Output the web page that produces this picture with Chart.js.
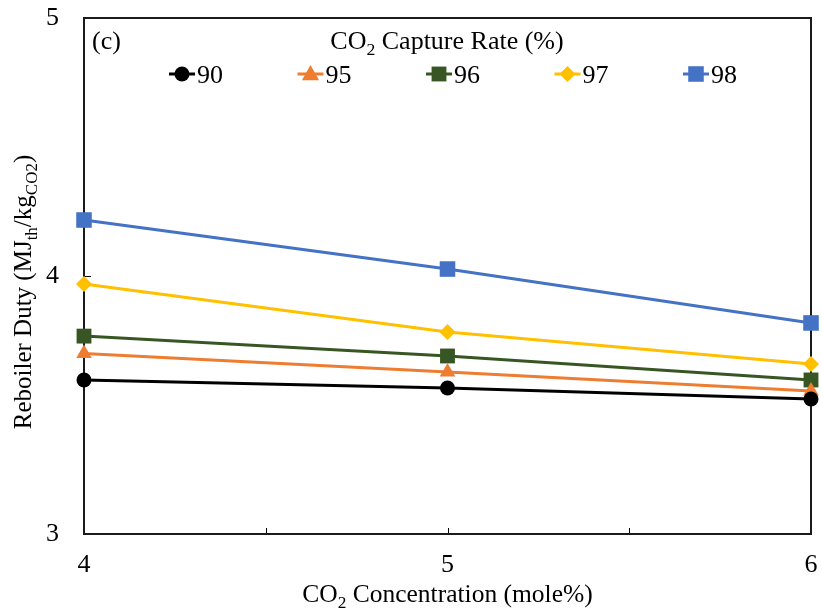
<!DOCTYPE html>
<html>
<head>
    <title>Reboiler Duty</title>
    <script src="https://cdn.jsdelivr.net/npm/chart.js"></script>
    <style>
        html, body { margin: 0; padding: 0; background: #fff; }
        #wrap { width: 822px; height: 611px; }
    </style>
</head>
<body>
    <div id="wrap"><canvas id="myChart" width="822" height="611"></canvas></div>
    <script>
        // CO2 concentration (mole%)
        const concentration = [4, 5, 6];
        // capture rates (%) and reboiler duty (MJ_th/kg_CO2)
        const captureRates = ['90', '95', '96', '97', '98'];
        const duty90 = [3.597, 3.566, 3.523];
        const duty95 = [3.700, 3.628, 3.554];
        const duty96 = [3.767, 3.690, 3.597];
        const duty97 = [3.969, 3.783, 3.659];
        const duty98 = [4.217, 4.027, 3.818];
        const yTicks = [3, 4, 5];
        const xTicks = [4, 5, 6];

        const FONT = '"Liberation Serif", "Times New Roman", serif';

        const series = [duty90, duty95, duty96, duty97, duty98];
        const colors = ['#000000', '#ED7D31', '#375623', '#FFC000', '#4472C4'];
        const shapes = ['circle', 'triangle', 'rect', 'rectRot', 'rect'];
        const radii = [7.5, 9, 10.5, 8, 11];

        const datasets = series.map((vals, i) => ({
            label: captureRates[i],
            data: vals.map((v, j) => ({ x: concentration[j], y: v })),
            borderColor: colors[i],
            backgroundColor: colors[i],
            borderWidth: 3,
            pointStyle: shapes[i],
            pointRadius: radii[i],
            pointHoverRadius: radii[i],
            pointBorderWidth: 0,
            tension: 0,
            clip: false
        }));

        // draw text with subscript parts: parts = [[text, isSub], ...]
        function drawRich(ctx, parts, size, x, y, align) {
            const sub = size * 0.68;
            let w = 0;
            parts.forEach(p => {
                ctx.font = (p[1] ? sub : size) + 'px ' + FONT;
                w += ctx.measureText(p[0]).width;
            });
            let cx = align === 'center' ? x - w / 2 : x;
            ctx.textAlign = 'left';
            ctx.textBaseline = 'alphabetic';
            parts.forEach(p => {
                ctx.font = (p[1] ? sub : size) + 'px ' + FONT;
                ctx.fillText(p[0], cx, p[1] ? y + size * 0.22 : y);
                cx += ctx.measureText(p[0]).width;
            });
        }

        function drawMarker(ctx, shape, x, y, r, color) {
            ctx.fillStyle = color;
            ctx.beginPath();
            if (shape === 'circle') {
                ctx.arc(x, y, r, 0, Math.PI * 2);
            } else if (shape === 'triangle') {
                ctx.moveTo(x, y - r);
                ctx.lineTo(x + r * 0.95, y + r * 0.7);
                ctx.lineTo(x - r * 0.95, y + r * 0.7);
                ctx.closePath();
            } else if (shape === 'rectRot') {
                ctx.moveTo(x, y - r);
                ctx.lineTo(x + r, y);
                ctx.lineTo(x, y + r);
                ctx.lineTo(x - r, y);
                ctx.closePath();
            } else {
                const s = r * Math.SQRT1_2;
                ctx.rect(x - s, y - s, 2 * s, 2 * s);
            }
            ctx.fill();
        }

        const decorations = {
            id: 'decorations',
            beforeDatasetsDraw(chart) {
                const ctx = chart.ctx;
                const a = chart.chartArea;
                const xs = chart.scales.x, ys = chart.scales.y;
                ctx.save();
                ctx.strokeStyle = '#000';
                ctx.lineWidth = 1;
                // inward ticks on x axis
                [4.5, 5, 5.5].forEach(v => {
                    const px = Math.round(xs.getPixelForValue(v)) + 0.5;
                    ctx.beginPath();
                    ctx.moveTo(px, a.bottom);
                    ctx.lineTo(px, a.bottom - 6);
                    ctx.stroke();
                });
                const py = Math.round(ys.getPixelForValue(4)) + 0.5;
                ctx.beginPath();
                ctx.moveTo(a.left, py);
                ctx.lineTo(a.left + 7, py);
                ctx.stroke();
                // frame
                ctx.lineWidth = 2;
                ctx.strokeStyle = '#1a1a1a';
                ctx.strokeRect(a.left, a.top, a.right - a.left, a.bottom - a.top);
                ctx.restore();
            },
            afterDraw(chart) {
                const ctx = chart.ctx;
                const a = chart.chartArea;
                ctx.save();
                ctx.fillStyle = '#000';
                // panel label
                drawRich(ctx, [['(c)', false]], 26, a.left + 8, 49, 'left');
                // legend title
                drawRich(ctx, [['CO', false], ['2', true], [' Capture Rate (%)', false]], 26, 447, 49, 'center');
                // legend entries
                chart.data.datasets.forEach((ds, i) => {
                    const cx = 182 + i * 128.5;
                    const cy = 74;
                    ctx.strokeStyle = ds.borderColor;
                    ctx.lineWidth = 3;
                    ctx.beginPath();
                    ctx.moveTo(cx - 13, cy);
                    ctx.lineTo(cx + 13, cy);
                    ctx.stroke();
                    drawMarker(ctx, ds.pointStyle, cx, cy, ds.pointRadius, ds.borderColor);
                    ctx.fillStyle = '#000';
                    drawRich(ctx, [[ds.label, false]], 26, cx + 15, 83, 'left');
                });
                // x axis title
                drawRich(ctx, [['CO', false], ['2', true], [' Concentration (mole%)', false]], 25.5, (a.left + a.right) / 2, 602, 'center');
                // y axis title
                ctx.translate(31, 292);
                ctx.rotate(-Math.PI / 2);
                drawRich(ctx, [['Reboiler Duty (MJ', false], ['th', true], ['/kg', false], ['CO2', true], [')', false]], 25, 0, 0, 'center');
                ctx.restore();
            }
        };

        new Chart(document.getElementById('myChart').getContext('2d'), {
            type: 'line',
            data: { datasets: datasets },
            options: {
                responsive: false,
                animation: false,
                events: [],
                layout: { padding: { left: 0, top: 18, right: 10, bottom: 0 } },
                plugins: {
                    legend: { display: false },
                    tooltip: { enabled: false },
                    title: { display: false }
                },
                scales: {
                    x: {
                        type: 'linear',
                        min: 4,
                        max: 6,
                        afterBuildTicks(scale) { scale.ticks = xTicks.map(v => ({ value: v })); },
                        afterFit(scale) {
                            scale.height = 77;
                            scale.paddingLeft = 0;
                            scale.paddingRight = 0;
                        },
                        grid: { display: false, drawTicks: false },
                        border: { display: false },
                        ticks: {
                            color: '#000',
                            padding: 16,
                            font: { family: FONT, size: 26 }
                        }
                    },
                    y: {
                        min: 3,
                        max: 5,
                        afterBuildTicks(scale) { scale.ticks = yTicks.map(v => ({ value: v })); },
                        afterFit(scale) {
                            scale.width = 84;
                            scale.paddingTop = 0;
                            scale.paddingBottom = 0;
                        },
                        grid: { display: false, drawTicks: false },
                        border: { display: false },
                        ticks: {
                            color: '#000',
                            padding: 25,
                            font: { family: FONT, size: 26 }
                        }
                    }
                }
            },
            plugins: [decorations]
        });
    </script>
</body>
</html>
